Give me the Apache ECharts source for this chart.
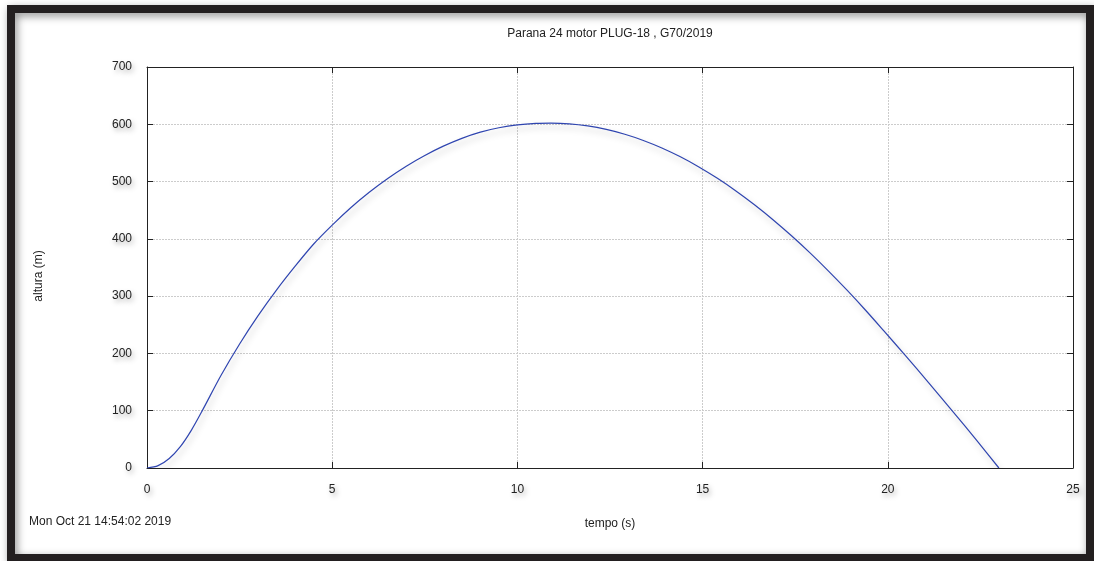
<!DOCTYPE html>
<html>
<head>
<meta charset="utf-8">
<script src="https://cdn.jsdelivr.net/npm/echarts@6/dist/echarts.min.js"></script>
<style>
html,body{margin:0;padding:0;background:#fff;}
#c{width:1094px;height:561px;}
</style>
</head>
<body>
<div id="c"></div>
<script>
// time (s)
const times = [0, 0.3, 0.6, 0.9, 1.2, 1.5, 2.0, 2.5, 3.0, 3.5, 4.0, 4.5, 5.0, 5.5, 6.0, 6.5, 7.0, 7.5, 8.0, 8.5, 9.0, 9.5, 10.0, 10.5, 10.9, 11.4, 11.9, 12.4, 12.9, 13.4, 13.9, 14.4, 14.9, 15.4, 15.9, 16.4, 16.9, 17.4, 17.9, 18.4, 18.9, 19.4, 19.9, 20.46, 21.1, 21.78, 22.4, 23.0];
// altitude (m)
const heights = [0, 4.1, 16.6, 37.3, 66.2, 101, 161.8, 216.5, 266, 311, 352.3, 391, 424, 454.3, 481.3, 505.4, 526.8, 545.5, 561.8, 575.5, 586.3, 593.9, 598.9, 601.5, 602, 600.8, 597.1, 591, 582.6, 571.8, 558.7, 543.3, 525.6, 505.7, 483.7, 459.6, 433.5, 405.4, 375.5, 343.8, 310.4, 275.4, 238.9, 197.5, 149.2, 96.8, 48.1, 0];
const xTicks = [0, 5, 10, 15, 20, 25];
const yTicks = [0, 100, 200, 300, 400, 500, 600, 700];

const titleText = 'Parana 24 motor PLUG-18 , G70/2019';
const xName = 'tempo (s)';
const yName = 'altura (m)';
const dateText = 'Mon Oct 21 14:54:02 2019';

const FONT = '"Liberation Sans", Arial, sans-serif';
const shadowTxt = {textShadowColor:'rgba(0,0,0,0.35)', textShadowBlur:5, textShadowOffsetX:2, textShadowOffsetY:3};
const shadowG = {shadowColor:'rgba(0,0,0,0.35)', shadowBlur:5, shadowOffsetX:2, shadowOffsetY:3};

const chart = echarts.init(document.getElementById('c'), null, {renderer:'canvas'});
const data = times.map((t,i)=>[t, heights[i]]);

const baseAxis = {
  type:'value',
  axisLine:{show:true, onZero:false, lineStyle:{color:'#222', width:1}},
  axisTick:{show:true, inside:true, length:6, lineStyle:{color:'#222'}},
  splitLine:{show:false},
  axisLabel:{show:false}
};

chart.setOption({
  backgroundColor:'#fff',
  animation:false,
  grid:{left:147, top:67, right:21, bottom:93, containLabel:false},
  xAxis:[
    Object.assign({}, baseAxis, {
      position:'bottom', min:xTicks[0], max:xTicks[xTicks.length-1], interval:5,
      splitLine:{show:true, lineStyle:{color:'#cccccc', type:[2,1], width:1}},
      axisLabel:Object.assign({show:true, color:'#222', fontFamily:FONT, fontSize:12, margin:16}, shadowTxt)
    }),
    Object.assign({}, baseAxis, {position:'top', min:xTicks[0], max:xTicks[xTicks.length-1], interval:5})
  ],
  yAxis:[
    Object.assign({}, baseAxis, {
      position:'left', min:yTicks[0], max:yTicks[yTicks.length-1], interval:100,
      splitLine:{show:true, lineStyle:{color:'#cccccc', type:[2,1], width:1}},
      axisLabel:Object.assign({show:true, color:'#222', fontFamily:FONT, fontSize:12, margin:15}, shadowTxt)
    }),
    Object.assign({}, baseAxis, {position:'right', min:yTicks[0], max:yTicks[yTicks.length-1], interval:100})
  ],
  series:[{
    type:'line',
    data:data,
    xAxisIndex:0, yAxisIndex:0,
    showSymbol:false,
    smooth:0.3,
    lineStyle:{color:'#2f45b0', width:1.2, shadowColor:'rgba(0,0,0,0.25)', shadowBlur:6, shadowOffsetX:2, shadowOffsetY:4},
    z:5
  }],
  graphic:[
    {type:'rect', shape:{x:11, y:9, width:1079, height:549}, style:{fill:'none', stroke:'#231f20', lineWidth:8, shadowColor:'rgba(0,0,0,0.45)', shadowBlur:8, shadowOffsetX:2, shadowOffsetY:3}, z:10, silent:true},
    {type:'text', x:610, y:34, style:Object.assign({text:titleText, font:'12px '+FONT, fill:'#222', align:'center', verticalAlign:'middle'}, shadowG)},
    {type:'text', x:610, y:524, style:Object.assign({text:xName, font:'12px '+FONT, fill:'#222', align:'center', verticalAlign:'middle'}, shadowG)},
    {type:'text', x:39, y:276, rotation:Math.PI/2, style:Object.assign({text:yName, font:'12px '+FONT, fill:'#222', align:'center', verticalAlign:'middle'}, shadowG)},
    {type:'text', x:29, y:522, style:Object.assign({text:dateText, font:'12px '+FONT, fill:'#222', align:'left', verticalAlign:'middle'}, shadowG)}
  ]
});
</script>
</body>
</html>
